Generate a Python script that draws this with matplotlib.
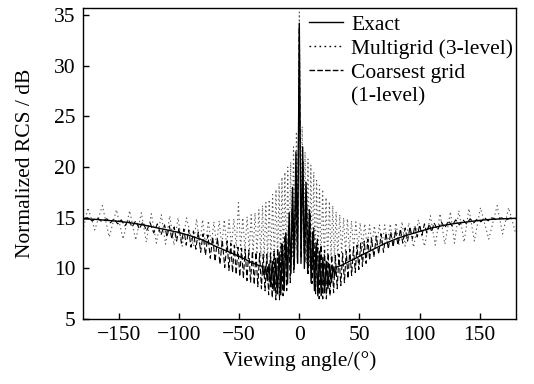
import matplotlib
matplotlib.use("Agg")
import matplotlib.pyplot as plt
from matplotlib.lines import Line2D

plt.rcParams['font.family'] = ['Liberation Serif', 'DejaVu Serif']

# ---------------- data ----------------
exact_angle = [-180, -170, -160, -150, -140, -130, -120, -110, -100, -90, -80, -70, -60, -50, -45, -40, -35, -31,
               -29.4, -28, -26.6, -25.2, -23.8, -22.4, -21, -19.6, -18.2, -16.8, -15.4, -14, -12.6, -11.2, -9.8,
               -8.4, -7, -5.6, -4.2, -2.8, -1.4, 0,
               1.4, 2.8, 4.2, 5.6, 7.0, 8.4, 9.8, 11.2, 12.6, 14, 15.4, 16.8, 18.2, 19.6, 21, 22.4, 23.8, 25.2,
               26.6, 28, 29.4, 31, 35, 40, 45, 50, 60, 70, 80, 90, 100, 110, 120, 130, 140, 150, 160, 170, 180]
exact_value = [14.9, 14.85, 14.75, 14.65, 14.5, 14.3, 14.05, 13.8, 13.55, 13.2, 12.8, 12.2, 11.7, 11.2, 10.9, 10.6,
               10.35, 10.2,
               9.4, 10.2, 8.8, 10.4, 8.2, 10.7, 7.8, 11.0, 7.5, 11.6, 7.4, 12.4, 7.8, 13.5, 8.5,
               15.5, 9.5, 18.0, 10.2, 21.5, 10.5, 34.2,
               10.5, 22.0, 10.0, 18.5, 9.5, 15.8, 8.6, 13.6, 7.8, 12.5, 7.3, 11.7, 7.3, 11.1, 7.6, 10.7, 8.0, 10.4,
               8.6, 10.2, 9.3, 10.15, 10.3, 10.6, 10.9, 11.2, 11.8, 12.4, 12.9, 13.3, 13.65, 14.0, 14.25, 14.45,
               14.6, 14.75, 14.85, 14.9, 14.95]

multigrid_angle = [-180, -175.7, -170, -163.7, -158, -152, -146.5, -141, -136, -131.3, -127.2, -123, -118.8,
                   -114.7, -111.2, -107.7, -104.2, -100.8, -97.3, -93.8, -88, -85.4, -82.8, -80.4, -78, -75.6,
                   -73.2, -71, -68.8, -66.6, -64.4, -62.4, -60.4, -58.4, -56.4, -54.4, -52.4, -50.6, -48.8, -47,
                   -45.2, -43.4, -41.6, -40, -38.4, -36.8, -35.2, -33.6, -32, -30.6, -29.2, -27.8, -26.4, -25,
                   -23.6, -22.2, -20.8, -19.4, -18, -16.8, -15.6, -14.4, -13.2, -12, -10.8, -9.6, -8.4, -7.2, -6,
                   -4.8, -3.6, -2.4, -1.2, 0,
                   1.2, 2.4, 3.6, 4.8, 6, 7.2, 8.4, 9.6, 10.8, 12, 13.2, 14.4, 15.6, 16.8, 18, 19.4, 20.8, 22.2,
                   23.6, 25, 26.4, 27.8, 29.2, 30.6, 32, 33.6, 35.2, 36.8, 38.4, 40, 41.6, 43.4, 45.2, 47, 48.8,
                   50.6, 52.4, 54.4, 56.4, 58.4, 60.4, 62.4, 64.4, 66.6, 68.8, 71, 73.2, 75.6, 78, 80.4, 82.8,
                   85.4, 88, 91, 95, 99, 104, 109, 113, 117, 121, 125.6, 129, 132.6, 137, 141, 145.5, 150.6,
                   157.5, 164.5, 169, 174, 180]
multigrid_value = [13.7, 16.0, 13.8, 16.2, 13.1, 15.8, 12.9, 15.7, 12.8, 15.5, 12.6, 15.4, 12.5,
                   15.3, 12.4, 15.2, 12.3, 15.0, 12.2, 15.0, 12.2, 14.9, 12.3, 14.8, 12.3, 14.7,
                   12.3, 14.6, 12.3, 14.7, 12.2, 14.8, 12.2, 14.8, 12.1, 14.9, 12.0, 16.5, 11.9, 15.0,
                   11.8, 15.1, 11.7, 15.3, 11.5, 15.5, 11.4, 15.8, 11.2, 16.2, 11.0, 16.5, 10.9, 16.8,
                   10.7, 17.3, 10.6, 17.8, 10.5, 18.4, 10.4, 19.0, 10.3, 19.5, 10.3, 20.0, 10.5, 20.5, 11.0,
                   22.0, 12.0, 23.5, 13.5, 35.3,
                   13.0, 24.0, 11.5, 21.5, 10.5, 20.8, 10.3, 20.2, 10.2, 19.5, 10.2, 18.7, 10.3, 18.2, 10.4, 17.8,
                   10.5, 17.0, 10.6, 16.6, 10.8, 16.2, 11.0, 15.6, 11.2, 15.3, 11.4, 15.0, 11.6, 14.9, 11.8,
                   14.7, 11.9, 14.6, 12.0, 14.5, 12.1, 14.4, 12.2, 14.3, 12.3, 14.2, 12.3, 14.3, 12.4, 14.3,
                   12.4, 14.4, 12.4, 14.5, 12.3, 14.6, 12.2, 14.5, 12.1, 14.8, 12.2, 15.2, 12.3, 15.4, 12.4,
                   15.6, 12.5, 15.7, 12.6, 15.9, 12.7, 16.0, 12.9, 16.2, 13.4, 16.0, 13.4]

coarse_angle = [-180, -176, -172, -168, -164, -160, -157, -154, -151, -148, -145, -142, -139, -136, -133, -130,
                -127, -124, -121, -118, -115, -112, -110, -108, -106, -104, -102, -100, -98, -96, -94, -92, -90,
                -88, -86, -84, -82, -80, -78, -76, -74, -72, -70, -68, -66, -64, -62, -60, -58.5, -57, -55.5,
                -54, -52.5, -51, -49.5, -48, -46.5, -45, -43.5, -42, -40.5, -39, -37.5, -36, -34.5, -33, -31.5,
                -30, -28.5, -27, -25.5, -24, -22.5, -21, -19.5, -18, -16.5, -15, -13.5, -12, -10.5, -9, -7.5,
                -6, -4.5, -3, -1.5, 0,
                1.5, 3, 4.5, 6, 7.5, 9, 10.5, 12, 13.5, 15, 16.5, 18, 19.5, 21, 22.5, 24, 25.5, 27, 28.5, 30,
                31.5, 33, 34.5, 36, 37.5, 39, 40.5, 42, 43.5, 45, 46.5, 48, 49.5, 51, 52.5, 54, 55.5, 57, 58.5,
                60, 62, 64, 66, 68, 70, 72, 74, 76, 78, 80, 82, 84, 86, 88, 90, 92, 94, 96, 98, 100, 102, 104,
                106, 108, 110, 112, 115, 118, 121, 124, 127, 130, 133, 136, 139, 142, 145, 148, 151, 154, 157,
                160, 164, 168, 172, 176, 180]
coarse_value = [14.9, 15.0, 14.7, 15.0, 14.6, 14.9, 14.5, 14.9, 14.4, 14.8, 14.2, 14.8, 14.1, 14.7, 13.9, 14.6,
                13.7, 14.5, 13.5, 14.4, 13.3, 14.3, 13.1, 14.2, 12.9, 14.1, 12.7, 14.0, 12.5, 13.9, 12.3, 13.8,
                12.1, 13.7, 11.9, 13.6, 11.6, 13.4, 11.3, 13.3, 11.0, 13.1, 10.7, 13.0, 10.4, 12.8, 10.1, 12.7,
                9.8, 12.5, 9.6, 12.3, 9.4, 12.1, 9.2, 12.0, 9.0, 11.9, 8.8, 11.8, 8.6, 11.7, 8.4, 11.6, 8.2, 11.5,
                8.0, 11.4, 7.8, 11.4, 7.4, 11.5, 7.1, 11.7, 6.9, 12.0, 6.9, 12.5, 7.3, 13.2, 7.8, 14.2, 8.6,
                15.8, 9.6, 18.0, 10.6, 33.8,
                11.0, 20.5, 10.5, 17.5, 9.5, 15.5, 8.5, 14.0, 7.5, 13.0, 7.0, 12.3, 7.0, 11.8, 7.0, 11.5, 7.3,
                11.3, 7.6, 11.3, 8.0, 11.4, 8.3, 11.5, 8.6, 11.7, 9.0, 11.9, 9.3, 12.1, 9.6, 12.3, 9.9, 12.5,
                10.2, 12.7, 10.5, 12.9, 10.8, 13.0, 11.1, 13.2, 11.4, 13.4, 11.6, 13.5, 11.9, 13.6, 12.1, 13.8,
                12.3, 13.9, 12.5, 14.0, 12.7, 14.1, 12.9, 14.2, 13.1, 14.3, 13.3, 14.4, 13.5, 14.4, 13.6, 14.5,
                13.8, 14.6, 14.0, 14.7, 14.2, 14.8, 14.3, 14.8, 14.4, 14.9, 14.5, 14.9, 14.6, 15.0, 14.7, 15.0,
                14.8, 15.0, 14.8, 15.0, 14.9]

legend_labels = ["Exact", "Multigrid (3-level)", "Coarsest grid", "(1-level)"]
x_ticks = [-150, -100, -50, 0, 50, 100, 150]
x_tick_labels = ['\u2212150', '\u2212100', '\u221250', '0', '50', '100', '150']
y_ticks = [5, 10, 15, 20, 25, 30, 35]

FS = 15.5

# ---------------- figure ----------------
fig = plt.figure(figsize=(5.34, 3.84), dpi=100)
ax = fig.add_axes([0.155, 0.169, 0.811, 0.810])

ax.plot(multigrid_angle, multigrid_value, color='0.35', lw=0.8, dashes=(1.2, 2.6), zorder=2)
ax.plot(coarse_angle, coarse_value, color='black', lw=0.8, dashes=(5.0, 2.4), zorder=3)
ax.plot(exact_angle, exact_value, color='black', lw=1.0, ls='-', zorder=4)

ax.set_xlim(-180, 180)
ax.set_ylim(5, 35.7)
ax.set_xticks(x_ticks)
ax.set_yticks(y_ticks)
ax.set_xticklabels(x_tick_labels)
ax.tick_params(direction='in', length=4, width=1, labelsize=FS, top=False, right=False)
ax.tick_params(axis='x', pad=5)
ax.tick_params(axis='y', pad=5)
for s in ax.spines.values():
    s.set_linewidth(1.0)

ax.set_xlabel("Viewing angle/(\u00b0)", fontsize=FS, labelpad=4)
ax.set_ylabel("Normalized RCS / dB", fontsize=FS, labelpad=14)

blank = Line2D([], [], color='none')
leg_ex = Line2D([], [], color='black', lw=1.0)
leg_mg = Line2D([], [], color='black', lw=1.0, dashes=(1.2, 2.4))
leg_cg = Line2D([], [], color='black', lw=1.0, dashes=(4.0, 1.6))
leg = ax.legend([leg_ex, leg_mg, leg_cg, blank], legend_labels, loc='upper right', frameon=False,
                fontsize=FS, handlelength=1.55, handletextpad=0.4, labelspacing=0.18,
                borderaxespad=0.0, bbox_to_anchor=(1.014, 1.006))

fig.savefig("out.png", dpi=100)
